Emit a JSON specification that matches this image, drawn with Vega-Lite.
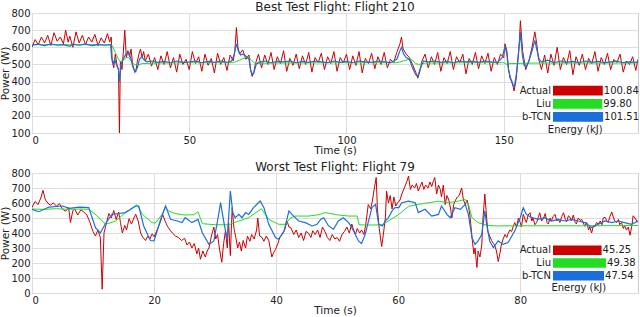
{
"$schema": "https://vega.github.io/schema/vega-lite/v6.json",
"padding": {"left": 0, "top": 0, "right": 0, "bottom": 0},
"spacing": 40,
"bounds": "flush",
"config": {
  "font": "DejaVu Sans",
  "view": {"stroke": "#cccccc"},
  "axis": {"gridColor": "#dddddd", "labelFontSize": 10, "titleFontSize": 10.5, "labelColor": "#222222", "titleColor": "#222222", "ticks": false, "domain": false, "titleFontWeight": "normal"},
  "title": {"fontSize": 12, "fontWeight": "normal", "color": "#222222", "offset": -6},
  "text": {"fontSize": 10, "color": "#222222"}
},
"datasets": {
"a210": [{"t":0,"v":600},{"t":1,"v":645},{"t":2,"v":615},{"t":3,"v":660},{"t":4,"v":625},{"t":5,"v":670},{"t":6,"v":610},{"t":7,"v":685},{"t":8,"v":635},{"t":9,"v":660},{"t":10,"v":620},{"t":10.7,"v":700},{"t":11.5,"v":630},{"t":12,"v":665},{"t":13,"v":600},{"t":14,"v":690},{"t":15,"v":625},{"t":16,"v":670},{"t":17,"v":615},{"t":18,"v":660},{"t":19,"v":630},{"t":20,"v":675},{"t":21,"v":610},{"t":22,"v":655},{"t":23,"v":625},{"t":24,"v":680},{"t":24.7,"v":630},{"t":25.2,"v":660},{"t":25.5,"v":520},{"t":26,"v":480},{"t":26.5,"v":560},{"t":27,"v":500},{"t":27.5,"v":470},{"t":27.8,"v":100},{"t":28.1,"v":520},{"t":28.6,"v":470},{"t":29,"v":560},{"t":29.5,"v":700},{"t":30,"v":540},{"t":30.5,"v":580},{"t":31,"v":545},{"t":31.5,"v":590},{"t":32,"v":500},{"t":32.5,"v":470},{"t":33,"v":455},{"t":33.5,"v":520},{"t":34,"v":560},{"t":34.5,"v":590},{"t":35,"v":540},{"t":35.5,"v":575},{"t":36,"v":520},{"t":37,"v":560},{"t":38,"v":490},{"t":39,"v":540},{"t":40,"v":470},{"t":41,"v":550},{"t":42,"v":500},{"t":43,"v":575},{"t":44,"v":480},{"t":45,"v":540},{"t":46,"v":455},{"t":47,"v":560},{"t":48,"v":500},{"t":49,"v":530},{"t":50,"v":470},{"t":51,"v":575},{"t":52,"v":505},{"t":53,"v":545},{"t":54,"v":460},{"t":55,"v":560},{"t":56,"v":495},{"t":57,"v":535},{"t":58,"v":450},{"t":59,"v":565},{"t":60,"v":500},{"t":61,"v":540},{"t":62,"v":465},{"t":63,"v":555},{"t":64,"v":520},{"t":64.5,"v":580},{"t":65,"v":715},{"t":65.5,"v":600},{"t":66,"v":560},{"t":67,"v":585},{"t":68,"v":530},{"t":69,"v":555},{"t":69.5,"v":470},{"t":70,"v":430},{"t":70.5,"v":450},{"t":71,"v":500},{"t":72,"v":560},{"t":73,"v":480},{"t":74,"v":555},{"t":75,"v":500},{"t":76,"v":570},{"t":77,"v":470},{"t":78,"v":545},{"t":79,"v":505},{"t":80,"v":580},{"t":81,"v":460},{"t":82,"v":535},{"t":83,"v":495},{"t":84,"v":560},{"t":85,"v":475},{"t":86,"v":550},{"t":87,"v":500},{"t":88,"v":570},{"t":89,"v":455},{"t":90,"v":540},{"t":91,"v":510},{"t":92,"v":565},{"t":93,"v":470},{"t":94,"v":545},{"t":95,"v":505},{"t":96,"v":575},{"t":97,"v":460},{"t":98,"v":540},{"t":99,"v":510},{"t":100,"v":560},{"t":101,"v":470},{"t":102,"v":550},{"t":103,"v":495},{"t":104,"v":575},{"t":105,"v":450},{"t":106,"v":535},{"t":107,"v":505},{"t":108,"v":565},{"t":109,"v":475},{"t":110,"v":545},{"t":111,"v":500},{"t":112,"v":570},{"t":113,"v":480},{"t":114,"v":530},{"t":115,"v":510},{"t":116,"v":570},{"t":117,"v":620},{"t":117.5,"v":660},{"t":118,"v":590},{"t":119,"v":560},{"t":120,"v":540},{"t":121,"v":500},{"t":122,"v":455},{"t":122.7,"v":420},{"t":123.5,"v":470},{"t":124,"v":520},{"t":125,"v":560},{"t":126,"v":480},{"t":127,"v":545},{"t":128,"v":500},{"t":129,"v":570},{"t":130,"v":460},{"t":131,"v":540},{"t":132,"v":505},{"t":133,"v":575},{"t":134,"v":470},{"t":135,"v":545},{"t":136,"v":510},{"t":137,"v":560},{"t":138,"v":445},{"t":139,"v":535},{"t":140,"v":500},{"t":141,"v":570},{"t":142,"v":475},{"t":143,"v":550},{"t":144,"v":505},{"t":145,"v":565},{"t":146,"v":460},{"t":147,"v":540},{"t":148,"v":500},{"t":149,"v":560},{"t":150,"v":540},{"t":150.4,"v":620},{"t":151,"v":580},{"t":151.5,"v":480},{"t":152,"v":420},{"t":152.5,"v":400},{"t":153,"v":370},{"t":153.3,"v":345},{"t":154,"v":420},{"t":155,"v":640},{"t":155.3,"v":755},{"t":156,"v":580},{"t":157,"v":470},{"t":158,"v":520},{"t":159,"v":600},{"t":159.9,"v":690},{"t":160.5,"v":620},{"t":161,"v":540},{"t":162,"v":470},{"t":163,"v":555},{"t":164,"v":450},{"t":165,"v":560},{"t":166,"v":495},{"t":167,"v":600},{"t":168,"v":470},{"t":169,"v":540},{"t":170,"v":500},{"t":171,"v":580},{"t":172,"v":440},{"t":173,"v":545},{"t":174,"v":495},{"t":175,"v":560},{"t":176,"v":470},{"t":177,"v":535},{"t":178,"v":505},{"t":179,"v":575},{"t":180,"v":460},{"t":181,"v":540},{"t":182,"v":500},{"t":183,"v":565},{"t":184,"v":470},{"t":185,"v":530},{"t":186,"v":510},{"t":187,"v":560},{"t":188,"v":455},{"t":189,"v":520},{"t":190,"v":500},{"t":191,"v":545},{"t":192,"v":465},{"t":192.7,"v":530}],
"l210": [{"t":0,"v":615},{"t":25,"v":615},{"t":25.5,"v":610},{"t":26.5,"v":570},{"t":27.5,"v":530},{"t":28.2,"v":515},{"t":29,"v":525},{"t":30,"v":540},{"t":30.8,"v":540},{"t":31.5,"v":520},{"t":32.5,"v":500},{"t":33.5,"v":495},{"t":35,"v":505},{"t":40,"v":508},{"t":50,"v":510},{"t":60,"v":510},{"t":64,"v":510},{"t":66,"v":525},{"t":68,"v":540},{"t":69,"v":540},{"t":70,"v":520},{"t":71,"v":505},{"t":75,"v":508},{"t":100,"v":510},{"t":116,"v":510},{"t":118,"v":520},{"t":120,"v":530},{"t":121,"v":525},{"t":122,"v":505},{"t":123,"v":500},{"t":125,"v":508},{"t":140,"v":510},{"t":150,"v":510},{"t":151,"v":500},{"t":152,"v":505},{"t":160,"v":508},{"t":192.7,"v":508}],
"b210": [{"t":0,"v":612},{"t":2,"v":618},{"t":4,"v":610},{"t":6,"v":620},{"t":8,"v":612},{"t":10,"v":615},{"t":12,"v":605},{"t":13,"v":618},{"t":15,"v":612},{"t":17,"v":620},{"t":19,"v":610},{"t":21,"v":615},{"t":23,"v":612},{"t":25,"v":615},{"t":25.3,"v":540},{"t":25.8,"v":505},{"t":26.3,"v":530},{"t":27,"v":490},{"t":27.5,"v":470},{"t":27.8,"v":400},{"t":28.3,"v":500},{"t":29,"v":530},{"t":29.8,"v":560},{"t":30.8,"v":570},{"t":31.5,"v":530},{"t":32,"v":490},{"t":32.7,"v":455},{"t":33.5,"v":480},{"t":34.2,"v":530},{"t":34.9,"v":545},{"t":35.7,"v":525},{"t":36.5,"v":515},{"t":38,"v":520},{"t":40,"v":512},{"t":42,"v":518},{"t":44,"v":510},{"t":46,"v":520},{"t":48,"v":512},{"t":50,"v":515},{"t":52,"v":520},{"t":54,"v":510},{"t":56,"v":518},{"t":58,"v":512},{"t":60,"v":520},{"t":62,"v":512},{"t":63.5,"v":520},{"t":64.3,"v":560},{"t":65,"v":620},{"t":65.6,"v":580},{"t":66.3,"v":555},{"t":67,"v":560},{"t":68,"v":550},{"t":69,"v":530},{"t":69.5,"v":470},{"t":70,"v":440},{"t":70.6,"v":455},{"t":71.3,"v":500},{"t":72,"v":512},{"t":74,"v":520},{"t":76,"v":510},{"t":78,"v":518},{"t":80,"v":515},{"t":82,"v":520},{"t":84,"v":510},{"t":86,"v":518},{"t":88,"v":512},{"t":90,"v":520},{"t":92,"v":515},{"t":94,"v":510},{"t":96,"v":520},{"t":98,"v":512},{"t":100,"v":518},{"t":102,"v":510},{"t":104,"v":520},{"t":106,"v":515},{"t":108,"v":512},{"t":110,"v":520},{"t":112,"v":515},{"t":114,"v":510},{"t":116,"v":530},{"t":117,"v":580},{"t":117.5,"v":600},{"t":118.2,"v":560},{"t":119,"v":540},{"t":120,"v":530},{"t":121,"v":480},{"t":122,"v":440},{"t":122.7,"v":430},{"t":123.5,"v":480},{"t":124.5,"v":520},{"t":126,"v":515},{"t":128,"v":520},{"t":130,"v":512},{"t":132,"v":518},{"t":134,"v":510},{"t":136,"v":520},{"t":138,"v":515},{"t":140,"v":518},{"t":142,"v":512},{"t":144,"v":520},{"t":146,"v":515},{"t":148,"v":512},{"t":149.5,"v":540},{"t":150.4,"v":605},{"t":151,"v":560},{"t":151.5,"v":470},{"t":152.2,"v":420},{"t":153,"v":380},{"t":153.4,"v":370},{"t":154,"v":440},{"t":154.7,"v":560},{"t":155.3,"v":690},{"t":155.9,"v":560},{"t":156.5,"v":495},{"t":157.2,"v":490},{"t":158,"v":520},{"t":159,"v":580},{"t":159.9,"v":640},{"t":160.6,"v":580},{"t":161.3,"v":530},{"t":162,"v":515},{"t":164,"v":525},{"t":166,"v":510},{"t":168,"v":520},{"t":170,"v":512},{"t":172,"v":518},{"t":174,"v":510},{"t":176,"v":520},{"t":178,"v":512},{"t":180,"v":518},{"t":182,"v":510},{"t":184,"v":515},{"t":186,"v":520},{"t":188,"v":510},{"t":190,"v":515},{"t":192.7,"v":512}],
"a79": [{"t":0,"v":570},{"t":0.5,"v":610},{"t":1,"v":590},{"t":1.5,"v":640},{"t":1.8,"v":685},{"t":2.2,"v":620},{"t":2.6,"v":600},{"t":3,"v":585},{"t":3.5,"v":600},{"t":4,"v":580},{"t":4.5,"v":595},{"t":5,"v":560},{"t":5.5,"v":545},{"t":6,"v":570},{"t":6.3,"v":470},{"t":6.7,"v":550},{"t":7,"v":560},{"t":7.5,"v":520},{"t":8,"v":555},{"t":8.5,"v":540},{"t":9,"v":520},{"t":9.5,"v":470},{"t":10,"v":410},{"t":10.4,"v":380},{"t":10.8,"v":420},{"t":11.2,"v":370},{"t":11.5,"v":25},{"t":11.8,"v":400},{"t":12.1,"v":450},{"t":12.6,"v":530},{"t":13,"v":500},{"t":13.4,"v":550},{"t":13.8,"v":490},{"t":14.2,"v":540},{"t":14.5,"v":470},{"t":14.8,"v":400},{"t":15.2,"v":450},{"t":15.5,"v":420},{"t":15.9,"v":495},{"t":16.3,"v":460},{"t":16.7,"v":500},{"t":17,"v":525},{"t":17.4,"v":480},{"t":17.8,"v":400},{"t":18.2,"v":370},{"t":18.6,"v":350},{"t":19,"v":380},{"t":19.3,"v":360},{"t":19.7,"v":395},{"t":20,"v":375},{"t":20.5,"v":420},{"t":21,"v":470},{"t":21.4,"v":525},{"t":21.8,"v":480},{"t":22.2,"v":445},{"t":22.6,"v":420},{"t":23,"v":400},{"t":23.5,"v":380},{"t":24,"v":370},{"t":24.5,"v":350},{"t":25,"v":365},{"t":25.4,"v":320},{"t":25.8,"v":340},{"t":26.2,"v":300},{"t":26.6,"v":330},{"t":27,"v":260},{"t":27.3,"v":300},{"t":27.6,"v":225},{"t":28,"v":280},{"t":28.4,"v":240},{"t":28.7,"v":280},{"t":29,"v":300},{"t":29.4,"v":380},{"t":29.8,"v":440},{"t":30.1,"v":360},{"t":30.4,"v":390},{"t":30.7,"v":300},{"t":31.1,"v":205},{"t":31.4,"v":330},{"t":31.7,"v":415},{"t":32,"v":300},{"t":32.2,"v":480},{"t":32.5,"v":250},{"t":32.8,"v":570},{"t":33.1,"v":430},{"t":33.4,"v":370},{"t":33.7,"v":300},{"t":34,"v":340},{"t":34.3,"v":280},{"t":34.6,"v":350},{"t":35,"v":300},{"t":35.3,"v":380},{"t":35.7,"v":345},{"t":36,"v":390},{"t":36.4,"v":360},{"t":36.8,"v":420},{"t":37,"v":500},{"t":37.3,"v":380},{"t":37.7,"v":370},{"t":38,"v":345},{"t":38.4,"v":380},{"t":38.8,"v":350},{"t":39.3,"v":240},{"t":39.6,"v":270},{"t":39.9,"v":290},{"t":40.3,"v":330},{"t":40.6,"v":370},{"t":41,"v":390},{"t":41.4,"v":420},{"t":41.8,"v":480},{"t":42.1,"v":440},{"t":42.4,"v":436},{"t":42.9,"v":390},{"t":43.3,"v":420},{"t":43.7,"v":370},{"t":44.1,"v":400},{"t":44.5,"v":350},{"t":44.9,"v":410},{"t":45.3,"v":400},{"t":45.7,"v":370},{"t":46,"v":415},{"t":46.4,"v":390},{"t":46.8,"v":420},{"t":47.2,"v":370},{"t":47.6,"v":440},{"t":48,"v":410},{"t":48.4,"v":370},{"t":48.8,"v":350},{"t":49.2,"v":390},{"t":49.6,"v":360},{"t":50,"v":370},{"t":50.4,"v":345},{"t":50.8,"v":390},{"t":51.2,"v":410},{"t":51.6,"v":440},{"t":52,"v":400},{"t":52.4,"v":460},{"t":52.7,"v":420},{"t":53,"v":390},{"t":53.3,"v":430},{"t":53.7,"v":400},{"t":54,"v":420},{"t":54.4,"v":390},{"t":54.7,"v":460},{"t":55.1,"v":590},{"t":55.5,"v":560},{"t":55.8,"v":620},{"t":56.1,"v":700},{"t":56.4,"v":770},{"t":56.6,"v":560},{"t":56.9,"v":430},{"t":57.3,"v":310},{"t":57.6,"v":400},{"t":57.9,"v":500},{"t":58.1,"v":680},{"t":58.4,"v":600},{"t":58.7,"v":650},{"t":59,"v":560},{"t":59.3,"v":640},{"t":59.6,"v":580},{"t":59.9,"v":600},{"t":60.3,"v":620},{"t":60.6,"v":660},{"t":61,"v":700},{"t":61.4,"v":740},{"t":61.7,"v":780},{"t":62,"v":690},{"t":62.3,"v":720},{"t":62.7,"v":700},{"t":63,"v":730},{"t":63.3,"v":680},{"t":63.6,"v":710},{"t":63.9,"v":740},{"t":64.2,"v":690},{"t":64.5,"v":720},{"t":64.9,"v":700},{"t":65.2,"v":740},{"t":65.5,"v":710},{"t":65.8,"v":750},{"t":66,"v":770},{"t":66.3,"v":660},{"t":66.6,"v":720},{"t":66.9,"v":690},{"t":67.1,"v":640},{"t":67.4,"v":720},{"t":67.7,"v":590},{"t":68,"v":650},{"t":68.3,"v":620},{"t":68.6,"v":560},{"t":68.8,"v":500},{"t":69.1,"v":590},{"t":69.4,"v":620},{"t":69.7,"v":640},{"t":70,"v":650},{"t":70.4,"v":700},{"t":70.7,"v":620},{"t":71,"v":590},{"t":71.3,"v":620},{"t":71.6,"v":560},{"t":71.8,"v":500},{"t":72.1,"v":370},{"t":72.4,"v":260},{"t":72.6,"v":300},{"t":72.9,"v":170},{"t":73.1,"v":280},{"t":73.4,"v":240},{"t":73.7,"v":320},{"t":73.9,"v":500},{"t":74.2,"v":660},{"t":74.5,"v":500},{"t":74.7,"v":410},{"t":75,"v":380},{"t":75.3,"v":350},{"t":75.6,"v":330},{"t":75.8,"v":320},{"t":76.1,"v":280},{"t":76.4,"v":210},{"t":76.7,"v":270},{"t":76.9,"v":320},{"t":77.2,"v":360},{"t":77.5,"v":390},{"t":77.8,"v":370},{"t":78,"v":395},{"t":78.3,"v":420},{"t":78.6,"v":410},{"t":78.9,"v":450},{"t":79.1,"v":470},{"t":79.4,"v":440},{"t":79.7,"v":500},{"t":80,"v":470},{"t":80.2,"v":440},{"t":80.5,"v":525},{"t":80.8,"v":490},{"t":81,"v":470},{"t":81.3,"v":520},{"t":81.6,"v":535},{"t":81.9,"v":480},{"t":82.1,"v":500},{"t":82.4,"v":455},{"t":82.7,"v":470},{"t":83,"v":510},{"t":83.2,"v":535},{"t":83.5,"v":480},{"t":83.8,"v":495},{"t":84.1,"v":530},{"t":84.4,"v":470},{"t":84.6,"v":460},{"t":84.9,"v":500},{"t":85.1,"v":480},{"t":85.4,"v":510},{"t":85.7,"v":525},{"t":86,"v":480},{"t":86.2,"v":495},{"t":86.5,"v":470},{"t":86.8,"v":510},{"t":87.1,"v":535},{"t":87.4,"v":490},{"t":87.6,"v":475},{"t":87.9,"v":515},{"t":88.2,"v":500},{"t":88.4,"v":480},{"t":88.7,"v":520},{"t":89,"v":470},{"t":89.2,"v":460},{"t":89.5,"v":500},{"t":89.8,"v":485},{"t":90.1,"v":490},{"t":90.4,"v":460},{"t":90.6,"v":445},{"t":90.9,"v":470},{"t":91.2,"v":420},{"t":91.4,"v":440},{"t":91.7,"v":400},{"t":92,"v":450},{"t":92.2,"v":440},{"t":92.5,"v":470},{"t":92.8,"v":460},{"t":93.1,"v":480},{"t":93.4,"v":455},{"t":93.6,"v":500},{"t":93.9,"v":505},{"t":94.2,"v":480},{"t":94.4,"v":470},{"t":94.7,"v":510},{"t":95,"v":540},{"t":95.3,"v":500},{"t":95.5,"v":480},{"t":95.8,"v":470},{"t":96.1,"v":490},{"t":96.3,"v":455},{"t":96.6,"v":470},{"t":96.9,"v":430},{"t":97.1,"v":450},{"t":97.4,"v":420},{"t":97.7,"v":440},{"t":98,"v":385},{"t":98.3,"v":450},{"t":98.5,"v":515},{"t":98.8,"v":500},{"t":99.1,"v":480},{"t":99.3,"v":470}],
"l79": [{"t":0,"v":560},{"t":2,"v":558},{"t":4,"v":562},{"t":6,"v":558},{"t":8,"v":560},{"t":9.3,"v":558},{"t":10.5,"v":520},{"t":12.1,"v":458},{"t":13.7,"v":480},{"t":15.3,"v":536},{"t":17.2,"v":588},{"t":18.1,"v":524},{"t":19.7,"v":469},{"t":20.2,"v":466},{"t":21.3,"v":524},{"t":21.8,"v":572},{"t":22.4,"v":547},{"t":23.4,"v":530},{"t":25,"v":520},{"t":26.5,"v":522},{"t":27.2,"v":542},{"t":27.9,"v":462},{"t":30.1,"v":455},{"t":32.2,"v":455},{"t":33.9,"v":480},{"t":35.5,"v":502},{"t":37.6,"v":562},{"t":38.8,"v":491},{"t":40.4,"v":458},{"t":41.5,"v":458},{"t":42.4,"v":502},{"t":43.2,"v":513},{"t":45.3,"v":513},{"t":47,"v":522},{"t":48,"v":536},{"t":50.2,"v":520},{"t":51.9,"v":513},{"t":53.3,"v":513},{"t":53.6,"v":455},{"t":55.2,"v":453},{"t":57.4,"v":455},{"t":58.4,"v":480},{"t":60.1,"v":524},{"t":61.7,"v":578},{"t":63.3,"v":591},{"t":65,"v":602},{"t":66.6,"v":612},{"t":68.2,"v":602},{"t":69.9,"v":613},{"t":71,"v":624},{"t":71.5,"v":591},{"t":72.1,"v":502},{"t":73.1,"v":469},{"t":74.7,"v":450},{"t":76.4,"v":447},{"t":80,"v":448},{"t":90,"v":448},{"t":99.3,"v":450}],
"b79": [{"t":0,"v":558},{"t":1.1,"v":542},{"t":2.8,"v":573},{"t":5,"v":580},{"t":6.1,"v":564},{"t":7.7,"v":573},{"t":9.3,"v":569},{"t":10.4,"v":436},{"t":11.2,"v":400},{"t":12,"v":460},{"t":13.1,"v":524},{"t":14.2,"v":530},{"t":15.3,"v":536},{"t":17,"v":580},{"t":17.5,"v":580},{"t":18.3,"v":447},{"t":19.4,"v":350},{"t":20,"v":347},{"t":21,"v":480},{"t":21.9,"v":580},{"t":22.7,"v":491},{"t":23.8,"v":480},{"t":24.6,"v":469},{"t":25.1,"v":502},{"t":26.2,"v":469},{"t":27.2,"v":491},{"t":27.9,"v":402},{"t":29,"v":324},{"t":29.8,"v":347},{"t":30.4,"v":480},{"t":30.9,"v":602},{"t":31.5,"v":458},{"t":32,"v":358},{"t":32.5,"v":680},{"t":32.9,"v":536},{"t":33.3,"v":502},{"t":33.9,"v":524},{"t":34.4,"v":502},{"t":35,"v":536},{"t":35.5,"v":524},{"t":36.3,"v":569},{"t":37.4,"v":613},{"t":38,"v":569},{"t":38.8,"v":458},{"t":39.9,"v":370},{"t":40.4,"v":358},{"t":41.3,"v":413},{"t":42.1,"v":547},{"t":42.6,"v":524},{"t":43.7,"v":480},{"t":44.8,"v":469},{"t":45.9,"v":447},{"t":46.7,"v":458},{"t":47.3,"v":491},{"t":47.8,"v":502},{"t":48.6,"v":447},{"t":49.4,"v":425},{"t":50.2,"v":480},{"t":51,"v":502},{"t":51.9,"v":469},{"t":52.7,"v":413},{"t":53.5,"v":347},{"t":54,"v":330},{"t":54.6,"v":391},{"t":55.7,"v":569},{"t":56.3,"v":591},{"t":56.8,"v":458},{"t":57.4,"v":447},{"t":57.9,"v":480},{"t":58.4,"v":502},{"t":59,"v":547},{"t":59.5,"v":569},{"t":60.1,"v":569},{"t":60.6,"v":602},{"t":61.7,"v":613},{"t":62.8,"v":602},{"t":63.3,"v":536},{"t":64.4,"v":558},{"t":65.5,"v":513},{"t":66.6,"v":524},{"t":67.1,"v":580},{"t":68,"v":524},{"t":68.5,"v":502},{"t":69.3,"v":569},{"t":70.2,"v":558},{"t":71,"v":591},{"t":71.5,"v":524},{"t":72.1,"v":369},{"t":72.6,"v":324},{"t":73.1,"v":347},{"t":73.7,"v":391},{"t":74.2,"v":547},{"t":74.5,"v":458},{"t":75,"v":347},{"t":75.6,"v":302},{"t":76.4,"v":347},{"t":77.2,"v":324},{"t":78,"v":336},{"t":79.1,"v":413},{"t":80,"v":502},{"t":80.5,"v":569},{"t":81,"v":524},{"t":81.9,"v":502},{"t":83,"v":491},{"t":84,"v":502},{"t":85.1,"v":480},{"t":86.2,"v":491},{"t":87.3,"v":480},{"t":88.4,"v":491},{"t":89.5,"v":480},{"t":90.6,"v":469},{"t":91.7,"v":436},{"t":92.8,"v":458},{"t":93.9,"v":480},{"t":95,"v":469},{"t":96.1,"v":480},{"t":97.1,"v":469},{"t":98.2,"v":458},{"t":99.3,"v":480}],
"e210": [{"m":"Actual","e":100.84},{"m":"Liu","e":99.80},{"m":"b-TCN","e":101.51}],
"e79": [{"m":"Actual","e":45.25},{"m":"Liu","e":49.38},{"m":"b-TCN","e":47.54}],
"cap": [{"m":"Energy (kJ)"}]
},
"vconcat": [
{
  "title": "Best Test Flight: Flight 210",
  "width": 606, "height": 120,
  "resolve": {"scale": {"x": "independent", "y": "independent"}},
  "layer": [
    {"encoding": {
       "x": {"field": "t", "type": "quantitative", "scale": {"domain": [0, 192.7], "nice": false, "zero": false}, "axis": {"values": [0, 50, 100, 150], "title": "Time (s)", "labelPadding": 2, "titlePadding": 0}},
       "y": {"field": "v", "type": "quantitative", "scale": {"domain": [100, 800], "nice": false, "zero": false}, "axis": {"values": [100, 200, 300, 400, 500, 600, 700, 800], "grid": true, "labelOverlap": false, "title": "Power (W)", "labelPadding": 2, "titlePadding": 0}}},
     "layer": [
      {"data": {"name": "a210"}, "mark": {"type": "line", "color": "#cc0000", "strokeWidth": 1, "clip": true}},
      {"data": {"name": "l210"}, "mark": {"type": "line", "color": "#22dd22", "strokeWidth": 1, "clip": true}},
      {"data": {"name": "b210"}, "mark": {"type": "line", "color": "#1a6fdc", "strokeWidth": 1.2, "clip": true}}
    ]},
    {"resolve": {"scale": {"x": "independent", "y": "independent"}},
     "layer": [
      {"data": {"values": [{}]}, "mark": {"type": "rect", "fill": "white"},
       "encoding": {
         "x": {"datum": 0, "type": "quantitative", "scale": {"domain": [0, 1], "range": [490.5, 606]}, "axis": null},
         "x2": {"datum": 1},
         "y": {"datum": 0, "type": "quantitative", "scale": {"domain": [0, 1], "range": [120, 66]}, "axis": null},
         "y2": {"datum": 1}}},
      {"layer": [
        {"data": {"name": "e210"}, "mark": {"type": "bar"},
         "encoding": {
           "x": {"field": "e", "type": "quantitative", "scale": {"domain": [0, 101.51], "range": [521, 575.3]}, "axis": null},
           "y": {"field": "m", "type": "nominal", "scale": {"domain": ["Actual", "Liu", "b-TCN", "Energy (kJ)"], "range": [71.15, 123.55], "paddingInner": 0.25, "paddingOuter": 0.125}, "axis": null},
           "color": {"field": "m", "type": "nominal", "scale": {"domain": ["Actual", "Liu", "b-TCN"], "range": ["#cc0000", "#22dd22", "#1a6fdc"]}, "legend": null}}},
        {"data": {"name": "e210"}, "mark": {"type": "text", "align": "right", "dx": -2},
         "encoding": {"x": {"datum": 0}, "y": {"field": "m", "type": "nominal"}, "text": {"field": "m"}}},
        {"data": {"name": "e210"}, "mark": {"type": "text", "align": "left", "dx": 1},
         "encoding": {"x": {"field": "e", "type": "quantitative"}, "y": {"field": "m", "type": "nominal"}, "text": {"field": "e", "type": "quantitative", "format": ".2f"}}},
        {"data": {"name": "cap"}, "mark": {"type": "text", "align": "center"},
         "encoding": {"x": {"datum": 45}, "y": {"field": "m", "type": "nominal"}, "text": {"field": "m"}}}
      ]}
    ]}
  ]
},
{
  "title": "Worst Test Flight: Flight 79",
  "width": 606, "height": 120,
  "resolve": {"scale": {"x": "independent", "y": "independent"}},
  "layer": [
    {"encoding": {
       "x": {"field": "t", "type": "quantitative", "scale": {"domain": [0, 99.3], "nice": false, "zero": false}, "axis": {"values": [0, 20, 40, 60, 80], "title": "Time (s)", "labelPadding": 2, "titlePadding": 0}},
       "y": {"field": "v", "type": "quantitative", "scale": {"domain": [0, 800], "nice": false}, "axis": {"values": [0, 100, 200, 300, 400, 500, 600, 700, 800], "grid": true, "labelOverlap": false, "title": "Power (W)", "labelPadding": 2, "titlePadding": 0}}},
     "layer": [
      {"data": {"name": "a79"}, "mark": {"type": "line", "color": "#cc0000", "strokeWidth": 1, "clip": true}},
      {"data": {"name": "l79"}, "mark": {"type": "line", "color": "#22dd22", "strokeWidth": 1, "clip": true}},
      {"data": {"name": "b79"}, "mark": {"type": "line", "color": "#1a6fdc", "strokeWidth": 1.2, "clip": true}}
    ]},
    {"resolve": {"scale": {"x": "independent", "y": "independent"}},
     "layer": [
      {"data": {"values": [{}]}, "mark": {"type": "rect", "fill": "white"},
       "encoding": {
         "x": {"datum": 0, "type": "quantitative", "scale": {"domain": [0, 1], "range": [490.5, 606]}, "axis": null},
         "x2": {"datum": 1},
         "y": {"datum": 0, "type": "quantitative", "scale": {"domain": [0, 1], "range": [120, 66]}, "axis": null},
         "y2": {"datum": 1}}},
      {"layer": [
        {"data": {"name": "e79"}, "mark": {"type": "bar"},
         "encoding": {
           "x": {"field": "e", "type": "quantitative", "scale": {"domain": [0, 49.38], "range": [521, 574.7]}, "axis": null},
           "y": {"field": "m", "type": "nominal", "scale": {"domain": ["Actual", "Liu", "b-TCN", "Energy (kJ)"], "range": [70.95, 121.75], "paddingInner": 0.25, "paddingOuter": 0.125}, "axis": null},
           "color": {"field": "m", "type": "nominal", "scale": {"domain": ["Actual", "Liu", "b-TCN"], "range": ["#cc0000", "#22dd22", "#1a6fdc"]}, "legend": null}}},
        {"data": {"name": "e79"}, "mark": {"type": "text", "align": "right", "dx": -2},
         "encoding": {"x": {"datum": 0}, "y": {"field": "m", "type": "nominal"}, "text": {"field": "m"}}},
        {"data": {"name": "e79"}, "mark": {"type": "text", "align": "left", "dx": 1},
         "encoding": {"x": {"field": "e", "type": "quantitative"}, "y": {"field": "m", "type": "nominal"}, "text": {"field": "e", "type": "quantitative", "format": ".2f"}}},
        {"data": {"name": "cap"}, "mark": {"type": "text", "align": "center"},
         "encoding": {"x": {"datum": 24}, "y": {"field": "m", "type": "nominal"}, "text": {"field": "m"}}}
      ]}
    ]}
  ]
}
]
}
